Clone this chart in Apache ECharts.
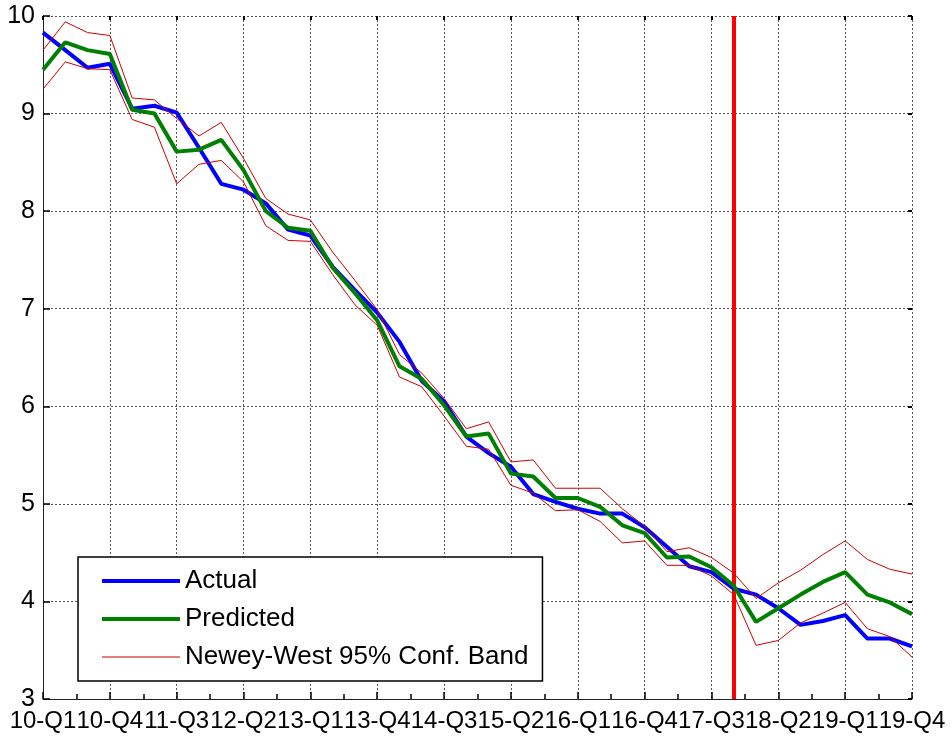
<!DOCTYPE html>
<html>
<head>
<meta charset="utf-8">
<script src="https://cdn.jsdelivr.net/npm/echarts@6/dist/echarts.min.js"></script>
<style>html,body{margin:0;padding:0;background:#fff;}#c{width:952px;height:738px;}</style>
</head>
<body>
<div id="c"></div>
<script>
const categories = [
  '10-Q1','10-Q2','10-Q3','10-Q4','11-Q1','11-Q2','11-Q3','11-Q4',
  '12-Q1','12-Q2','12-Q3','12-Q4','13-Q1','13-Q2','13-Q3','13-Q4',
  '14-Q1','14-Q2','14-Q3','14-Q4','15-Q1','15-Q2','15-Q3','15-Q4',
  '16-Q1','16-Q2','16-Q3','16-Q4','17-Q1','17-Q2','17-Q3','17-Q4',
  '18-Q1','18-Q2','18-Q3','18-Q4','19-Q1','19-Q2','19-Q3','19-Q4'
];
const actual = [
  9.83, 9.65, 9.47, 9.51, 9.05, 9.08, 9.01, 8.65, 8.28, 8.22,
  8.08, 7.81, 7.75, 7.43, 7.19, 6.96, 6.66, 6.26, 6.05, 5.69,
  5.52, 5.38, 5.10, 5.02, 4.95, 4.90, 4.90, 4.76, 4.56, 4.36,
  4.30, 4.13, 4.07, 3.93, 3.76, 3.80, 3.86, 3.62, 3.62, 3.54
];
const predicted = [
  9.45, 9.73, 9.65, 9.61, 9.04, 9.00, 8.61, 8.63, 8.73, 8.42,
  8.00, 7.83, 7.80, 7.42, 7.16, 6.88, 6.41, 6.28, 6.01, 5.69,
  5.72, 5.31, 5.28, 5.06, 5.06, 4.97, 4.78, 4.70, 4.45, 4.46,
  4.35, 4.16, 3.79, 3.93, 4.07, 4.20, 4.30, 4.07, 3.99, 3.87
];
const upperBand = [
  9.65, 9.94, 9.83, 9.80, 9.16, 9.14, 8.95, 8.77, 8.91, 8.54,
  8.13, 7.97, 7.91, 7.58, 7.29, 6.99, 6.53, 6.34, 6.08, 5.77,
  5.84, 5.43, 5.45, 5.16, 5.16, 5.16, 4.95, 4.77, 4.51, 4.55,
  4.45, 4.29, 4.03, 4.19, 4.32, 4.48, 4.62, 4.43, 4.33, 4.28
];
const lowerBand = [
  9.25, 9.53, 9.46, 9.45, 8.94, 8.86, 8.28, 8.48, 8.52, 8.30,
  7.85, 7.70, 7.69, 7.35, 7.04, 6.83, 6.30, 6.20, 5.90, 5.59,
  5.56, 5.19, 5.11, 4.93, 4.94, 4.82, 4.60, 4.62, 4.37, 4.37,
  4.26, 4.07, 3.55, 3.60, 3.78, 3.88, 3.99, 3.72, 3.64, 3.43
];
const forecastStart = '17-Q4';
const seriesNames = ['Actual', 'Predicted', 'Newey-West 95% Conf. Band'];

const FONT = "'Liberation Sans', Arial, sans-serif";
const chart = echarts.init(document.getElementById('c'), null, {renderer: 'canvas'});
const gridLine = {show: true, lineStyle: {color: '#555', type: [2, 2], width: 1}};

chart.setOption({
  animation: false,
  backgroundColor: '#fff',
  textStyle: {fontFamily: FONT},
  grid: {left: 43, right: 40, top: 16, bottom: 39, containLabel: false},
  legend: {
    data: [
      {name: seriesNames[0], lineStyle: {width: 4}},
      {name: seriesNames[1], lineStyle: {width: 4}},
      {name: seriesNames[2], lineStyle: {width: 1}}
    ],
    orient: 'vertical',
    left: 78, top: 557,
    padding: [11, 14, 11, 22],
    itemGap: 12,
    itemWidth: 78,
    itemHeight: 14,
    itemStyle: {opacity: 0},
    backgroundColor: '#fff',
    borderColor: '#000',
    borderWidth: 1.5,
    borderRadius: 0,
    textStyle: {fontSize: 26, color: '#000', fontFamily: FONT}
  },
  xAxis: [
    {
      type: 'category',
      data: categories,
      boundaryGap: false,
      position: 'bottom',
      axisLine: {show: true, onZero: false, lineStyle: {color: '#222', width: 1}},
      axisTick: {show: true, inside: true, interval: 2, length: 7, lineStyle: {color: '#000', width: 1.5}},
      axisLabel: {interval: 2, fontSize: 24, color: '#000', margin: 10, fontFamily: FONT,
                  showMinLabel: true, showMaxLabel: true, hideOverlap: false},
      splitLine: {show: true, interval: 2, lineStyle: {color: '#555', type: [2, 2], width: 1}}
    },
    {
      type: 'value',
      min: 0, max: 39, interval: 3,
      position: 'bottom',
      axisLine: {show: false, onZero: false},
      axisTick: {show: false, inside: true},
      minorTick: {show: true, splitNumber: 2, length: 5, lineStyle: {color: '#000', width: 1.5}},
      axisLabel: {show: false},
      splitLine: {show: false}
    },
    {
      type: 'category',
      data: categories,
      boundaryGap: false,
      position: 'top',
      axisLine: {show: false, onZero: false},
      axisTick: {show: true, inside: true, interval: 2, length: 4, lineStyle: {color: '#000', width: 2}},
      axisLabel: {show: false},
      splitLine: {show: false}
    }
  ],
  yAxis: [
    {
      type: 'value',
      min: 3, max: 10, interval: 1,
      position: 'left',
      axisLine: {show: true, onZero: false, lineStyle: {color: '#222', width: 1}},
      axisTick: {show: true, inside: true, length: 7, lineStyle: {color: '#000', width: 1.5}},
      axisLabel: {fontSize: 25, color: '#000', margin: 8, fontFamily: FONT,
                  showMinLabel: true, showMaxLabel: true},
      splitLine: gridLine
    },
    {
      type: 'value',
      min: 3, max: 10, interval: 1,
      position: 'right',
      axisLine: {show: false, onZero: false},
      axisTick: {show: true, inside: true, length: 4, lineStyle: {color: '#000', width: 2}},
      axisLabel: {show: false},
      splitLine: {show: false}
    }
  ],
  series: [
    {
      name: 'forecast-start',
      type: 'line',
      data: [],
      z: 1,
      silent: true,
      markLine: {
        silent: true,
        symbol: 'none',
        label: {show: false},
        lineStyle: {color: '#FF0000', width: 4, type: 'solid'},
        data: [{xAxis: forecastStart}]
      }
    },
    {
      name: seriesNames[0], type: 'line', data: actual, z: 10,
      symbol: 'none', showSymbol: false,
      lineStyle: {color: '#0000FF', width: 4}, itemStyle: {color: '#0000FF'}
    },
    {
      name: seriesNames[1], type: 'line', data: predicted, z: 10,
      symbol: 'none', showSymbol: false,
      lineStyle: {color: '#008000', width: 4}, itemStyle: {color: '#008000'}
    },
    {
      name: seriesNames[2], type: 'line', data: upperBand, z: 10,
      symbol: 'none', showSymbol: false,
      lineStyle: {color: '#CC0000', width: 1}, itemStyle: {color: '#CC0000'}
    },
    {
      name: seriesNames[2], type: 'line', data: lowerBand, z: 10,
      symbol: 'none', showSymbol: false,
      lineStyle: {color: '#CC0000', width: 1}, itemStyle: {color: '#CC0000'}
    }
  ]
});
</script>
</body>
</html>
